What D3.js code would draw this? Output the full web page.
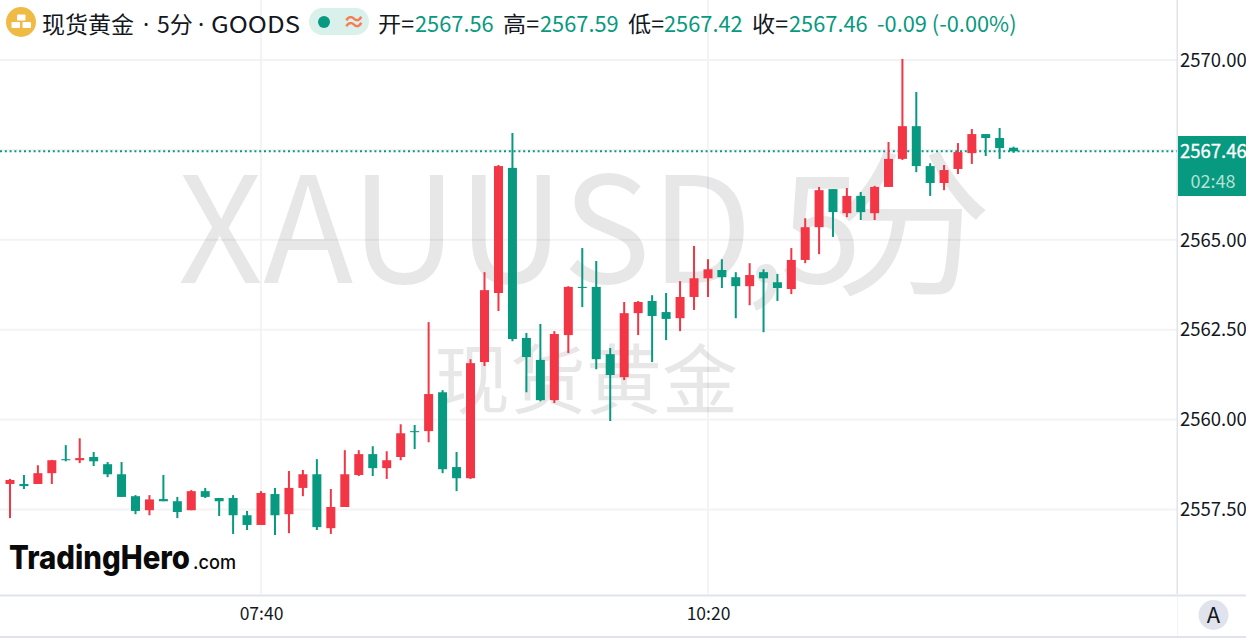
<!DOCTYPE html>
<html><head><meta charset="utf-8">
<script src="https://cdn.jsdelivr.net/npm/d3@7/dist/d3.min.js"></script>
<style>html,body{margin:0;padding:0;background:#fff}svg{display:block}text{font-family:"Noto Sans CJK SC","Noto Sans",sans-serif}</style>
</head><body><div id="c"></div>
<script>
const opens=[2558.21,2558.21,2558.21,2558.51,2558.90,2558.87,2558.96,2558.76,2558.48,2557.87,2557.48,2557.79,2557.73,2557.48,2558.01,2557.82,2557.82,2557.34,2557.07,2557.93,2557.37,2558.10,2558.48,2556.98,2557.57,2558.46,2559.04,2558.65,2558.96,2559.68,2559.68,2560.76,2558.68,2558.37,2561.60,2563.52,2567.00,2562.27,2561.66,2560.54,2562.35,2563.69,2563.69,2561.82,2561.18,2562.96,2563.30,2562.99,2562.82,2563.41,2563.93,2564.16,2563.96,2563.71,2564.10,2563.82,2563.63,2564.44,2565.35,2566.41,2565.74,2566.22,2565.74,2566.47,2567.25,2568.16,2567.05,2566.58,2566.97,2567.41,2567.94,2567.83,2567.56];
const highs=[2558.35,2558.46,2558.73,2558.88,2559.29,2559.48,2559.10,2558.82,2558.82,2557.90,2557.90,2558.46,2557.85,2558.04,2558.10,2557.82,2557.90,2557.46,2558.01,2558.10,2558.57,2558.60,2558.90,2558.07,2559.15,2559.15,2559.26,2559.12,2559.87,2559.85,2562.71,2560.82,2559.10,2561.68,2564.10,2567.08,2567.97,2562.41,2562.66,2562.46,2563.71,2564.77,2564.41,2561.99,2563.27,2563.30,2563.46,2563.52,2563.85,2564.83,2564.46,2564.46,2564.10,2564.35,2564.18,2564.05,2564.77,2565.60,2566.47,2566.41,2566.44,2566.33,2566.50,2567.72,2570.03,2569.11,2567.13,2567.08,2567.69,2568.08,2567.94,2568.11,2567.59];
const lows=[2557.26,2558.07,2558.21,2558.21,2558.84,2558.79,2558.71,2558.40,2557.85,2557.37,2557.34,2557.73,2557.26,2557.48,2557.82,2557.32,2556.82,2556.93,2557.07,2556.79,2556.84,2557.87,2556.93,2556.82,2557.57,2558.43,2558.43,2558.35,2558.87,2559.18,2559.37,2558.51,2558.01,2558.35,2561.49,2563.02,2562.18,2560.76,2560.51,2560.46,2561.85,2563.13,2561.40,2559.96,2561.10,2562.35,2561.60,2562.21,2562.46,2563.05,2563.41,2563.66,2562.82,2563.18,2562.43,2563.30,2563.49,2564.35,2564.60,2565.08,2565.63,2565.55,2565.55,2566.47,2567.22,2566.88,2566.22,2566.38,2566.83,2567.11,2567.33,2567.25,2567.42];
const closes=[2558.32,2558.15,2558.51,2558.87,2558.87,2558.93,2558.84,2558.48,2557.85,2557.46,2557.78,2557.73,2557.43,2558.01,2557.85,2557.73,2557.34,2557.07,2557.96,2557.34,2558.10,2558.48,2557.01,2557.57,2558.48,2559.04,2558.65,2558.87,2559.62,2559.65,2560.71,2558.62,2558.37,2561.57,2563.60,2567.05,2562.24,2561.74,2560.54,2562.38,2563.69,2563.66,2561.68,2561.24,2562.96,2563.27,2562.88,2562.80,2563.41,2563.93,2564.18,2563.96,2563.71,2564.02,2563.93,2563.66,2564.44,2565.35,2566.38,2565.77,2566.22,2565.77,2566.47,2567.25,2568.16,2567.05,2566.58,2566.94,2567.44,2567.94,2567.83,2567.55,2567.46];
const priceTicks=[2570,2567.5,2565,2562.5,2560,2557.5];
const timeTickIndex=[18,50];
const timeTickLabels=["07:40","10:20"];
const lastPrice=2567.46;
const ohlcLabels=[["开=","2567.56",378,415],["高=","2567.59",503,540],["低=","2567.42",628,664],["收=","2567.46",752,789]];

const UP="#f23645",DOWN="#089981",GRID="#f3f3f6",AXIS="#e0e3eb";
const W=1246,H=642;
const x=d3.scaleLinear().domain([0,18,50,72]).range([10,261,708,1013.5]);
const y=d3.scaleLinear().domain([2570,2557.5]).range([60,509.5]);
const svg=d3.select("#c").append("svg").attr("width",W).attr("height",H);

// grid
const g=svg.append("g");
g.selectAll(".h").data(priceTicks).join("rect").attr("x",0).attr("width",1177).attr("y",d=>y(d)-1).attr("height",2).attr("fill",GRID);
g.selectAll(".v").data(timeTickIndex).join("rect").attr("x",d=>x(d)-1).attr("width",2).attr("y",0).attr("height",594).attr("fill",GRID);

// watermark
const wm=(t,px,py,fs,anchor)=>svg.append("text").attr("x",px).attr("y",py).attr("text-anchor",anchor||"start").attr("font-size",fs).attr("fill","#131722").attr("fill-opacity",.1).text(t);
wm("XAUUSD",178,283,148);
wm(",",745,283,148);
wm("5",780,283,148);
wm("分",912,283,160,"middle");
wm("现货黄金",586,408,76,"middle");

// last price line
svg.append("line").attr("x1",0).attr("x2",1177).attr("y1",y(lastPrice)).attr("y2",y(lastPrice)).attr("stroke",DOWN).attr("stroke-width",2).attr("stroke-dasharray","2 2.8");

// candles
const idx=d3.range(closes.length);
const col=i=>closes[i]>=opens[i]?UP:DOWN;
const c=svg.append("g");
c.selectAll(".w").data(idx).join("rect").attr("x",i=>x(i)-1).attr("width",2).attr("y",i=>y(highs[i])).attr("height",i=>y(lows[i])-y(highs[i])).attr("fill",col);
c.selectAll(".b").data(idx).join("rect").attr("x",i=>x(i)-4.5).attr("width",9).attr("y",i=>y(Math.max(opens[i],closes[i]))).attr("height",i=>Math.max(1,Math.abs(y(opens[i])-y(closes[i])))).attr("fill",col);

// axes frame
svg.append("rect").attr("x",1176.5).attr("y",0).attr("width",1.5).attr("height",594).attr("fill",AXIS);
svg.append("rect").attr("x",0).attr("y",594.5).attr("width",W).attr("height",2).attr("fill",AXIS);
svg.append("rect").attr("x",0).attr("y",636).attr("width",W).attr("height",2).attr("fill",AXIS);
svg.append("rect").attr("x",1177).attr("y",596).attr("width",1).attr("height",40).attr("fill","#f3f3f6");

// axes via d3
const ya=svg.append("g").attr("transform","translate(1177,0.3)").call(d3.axisRight(y).tickValues(priceTicks).tickFormat(d3.format(".2f")).tickSize(0).tickPadding(3));
ya.select(".domain").remove();
ya.selectAll("text").attr("font-size",18.5).attr("fill","#131722").style("font-family",'"Noto Sans CJK SC",sans-serif');
const xa=svg.append("g").attr("transform","translate(0,596)").call(d3.axisBottom(x).tickValues(timeTickIndex).tickFormat((d,i)=>timeTickLabels[i]).tickSize(0).tickPadding(12));
xa.select(".domain").remove();
xa.selectAll("text").attr("font-size",17.5).attr("fill","#131722").style("font-family",'"Noto Sans CJK SC",sans-serif');

// price tag
svg.append("rect").attr("x",1178).attr("y",136).attr("width",68).attr("height",60).attr("fill",DOWN);
svg.append("text").attr("x",1180).attr("y",158).attr("font-size",18.5).attr("fill","#fff").attr("stroke","#fff").attr("stroke-width",.3).text(d3.format(".2f")(lastPrice));
svg.append("text").attr("x",1213).attr("y",188).attr("text-anchor","middle").attr("font-size",18).attr("fill","#b5e0d6").text("02:48");

// A badge
svg.append("circle").attr("cx",1213.5).attr("cy",615).attr("r",15).attr("fill",AXIS);
svg.append("text").attr("x",1213.5).attr("y",623).attr("text-anchor","middle").attr("font-size",22).attr("fill","#131722").text("A");

// header
svg.append("circle").attr("cx",21).attr("cy",22).attr("r",15).attr("fill","#f0bb45");
[[17,14.5],[11.5,22],[22.5,22]].forEach(p=>svg.append("rect").attr("x",p[0]).attr("y",p[1]).attr("width",8.5).attr("height",6).attr("rx",1).attr("fill","#fff"));
const tt=(t,px,len,ff)=>{const e=svg.append("text").attr("x",px).attr("y",33).attr("font-size",23).attr("fill","#131722").text(t);if(len)e.attr("textLength",len).attr("lengthAdjust","spacingAndGlyphs");if(ff)e.style("font-family",ff);};
tt("现货黄金",42);tt("·",143,0,'"Noto Sans"');tt("5分",157);tt("·",198,0,'"Noto Sans"');tt("GOODS",211,89);
svg.append("rect").attr("x",309).attr("y",8).attr("width",60).attr("height",27).attr("rx",13.5).attr("fill","#daf0eb");
svg.append("circle").attr("cx",324).attr("cy",22).attr("r",6).attr("fill",DOWN);
svg.append("text").attr("x",354).attr("y",30).attr("text-anchor","middle").attr("font-size",23).attr("font-weight",700).attr("fill","#f77c50").text("≈");
ohlcLabels.forEach(r=>{
  svg.append("text").attr("x",r[2]).attr("y",32).attr("font-size",21.8).attr("fill","#131722").attr("textLength",36).attr("lengthAdjust","spacingAndGlyphs").text(r[0]);
  svg.append("text").attr("x",r[3]).attr("y",32).attr("font-size",21.8).attr("fill",DOWN).text(r[1]);
});
svg.append("text").attr("x",877).attr("y",32).attr("font-size",21.8).attr("fill",DOWN).text("-0.09 (-0.00%)");

// logo
svg.append("text").attr("x",9).attr("y",569).attr("font-size",33).attr("font-weight",800).attr("fill","#0a0a0a").attr("textLength",181).attr("lengthAdjust","spacingAndGlyphs").style("font-family","Inter,sans-serif").text("TradingHero");
svg.append("text").attr("x",193).attr("y",569).attr("font-size",19).attr("font-weight",500).attr("fill","#0a0a0a").attr("textLength",43).attr("lengthAdjust","spacingAndGlyphs").style("font-family","Inter,sans-serif").text(".com");
</script></body></html>
